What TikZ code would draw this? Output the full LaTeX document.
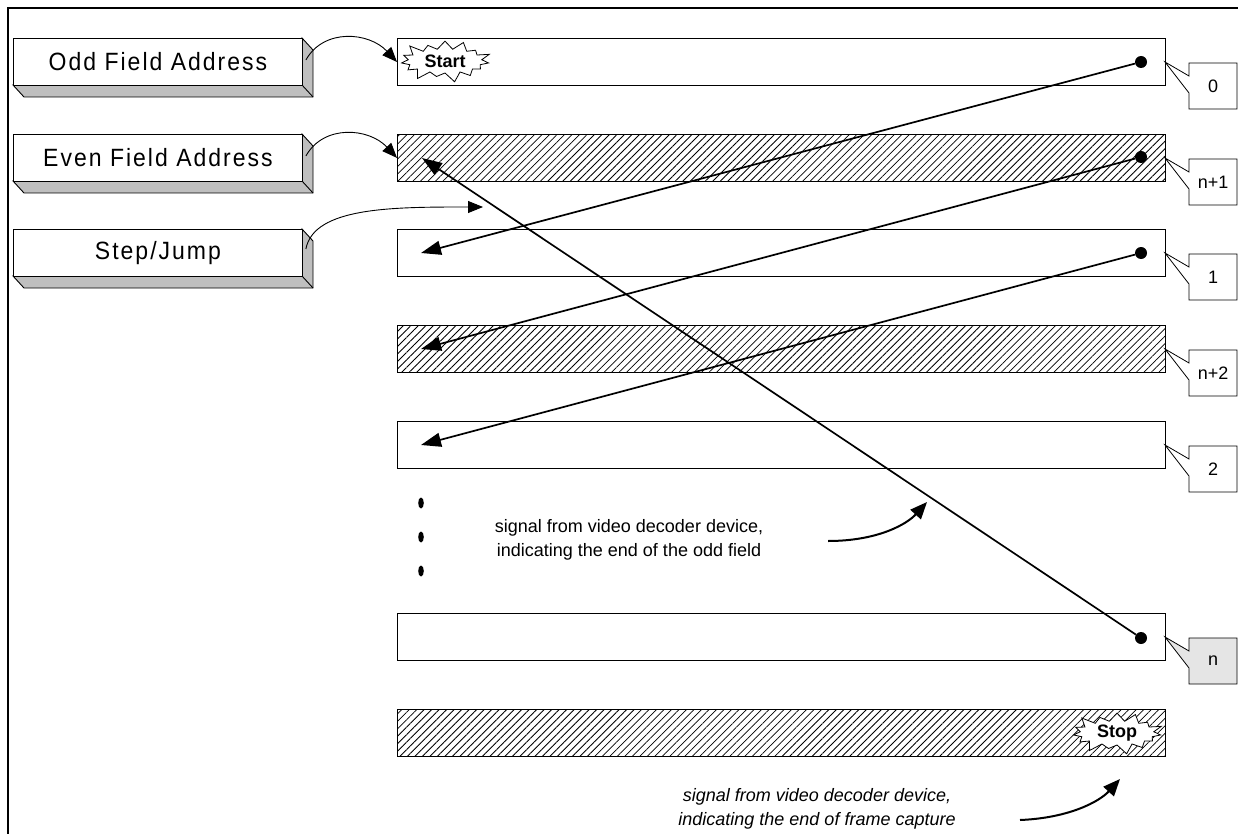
\documentclass[tikz,border=0pt]{standalone}
\usepackage{fontspec}
\setmainfont{Liberation Sans}
\newfontfamily\boxfont[FakeStretch=0.92,LetterSpace=8]{Liberation Sans}
\usetikzlibrary{arrows.meta,shapes.symbols,patterns.meta,calc}
\tikzset{
  rowbox/.style={draw, line width=1pt, fill=white, minimum width=768pt, minimum height=47pt, inner sep=0pt, anchor=north west},
  hatched/.style={rowbox, pattern={Lines[angle=45,distance=5.3pt,line width=0.8pt]}},
  frontbox/.style={draw, line width=0.9pt, fill=white, minimum width=289pt, minimum height=47pt, inner sep=0pt, anchor=north west, font=\boxfont\fontsize{25}{28}\selectfont},
  sideface/.style={draw, line width=0.9pt, fill=black!25},
  dotnode/.style={circle, fill=black, inner sep=0pt, minimum size=12pt},
  bigarrow/.style={line width=1.7pt, -{Triangle[length=20pt,width=14pt]}},
  thinarrow/.style={line width=0.9pt, -{Triangle[length=15pt,width=12pt]}},
  medarrow/.style={line width=2pt, -{Triangle[length=17pt,width=14pt]}},
  burst/.style={starburst, draw, fill=white, line width=0.8pt, starburst points=15, starburst point height=11pt, inner sep=0pt, font=\bfseries\fontsize{18}{18}\selectfont},
  sigtext/.style={align=center, font=\fontsize{18}{24}\selectfont},
  labtext/.style={font=\fontsize{18}{18}\selectfont},
}
\newcommand\tdbox[3]{%
  \filldraw[sideface] (302,#2) -- (313,#2+12) -- (313,#2+59) -- (24,#2+59) -- (13,#2+47) -- (302,#2+47) -- cycle;
  \draw[line width=0.9pt] (302,#2+47) -- (313,#2+59);
  \node[frontbox] (#1) at (13,#2) {#3};
}
\begin{document}
\begin{tikzpicture}[x=1pt,y=-1pt]
\useasboundingbox (0,0) rectangle (1238,834);
% frame
\draw[line width=2.6pt] (8,834) -- (8,8) -- (1238,8);

% left 3D boxes
\tdbox{odd}{38}{Odd Field Address}
\tdbox{even}{134}{Even Field Address}
\tdbox{sj}{229}{Step/Jump}

% memory rows
\node[rowbox] (r0) at (397,38) {};
\node[hatched] (r1) at (397,134) {};
\node[rowbox] (r2) at (397,229) {};
\node[hatched] (r3) at (397,325) {};
\node[rowbox] (r4) at (397,421) {};
\node[rowbox] (rn) at (397,613) {};
\node[hatched] (rs) at (397,709) {};

% callouts
\foreach \t/\lab/\f in {38/0/white, 134/n+1/white, 229/1/white, 325/n+2/white, 421/2/white, 613/n/black!10}{
  \filldraw[fill=\f, line width=0.8pt] (1189,\t+25) -- (1237,\t+25) -- (1237,\t+71) -- (1189,\t+71) -- (1189,\t+55) -- (1165,\t+24) -- (1189,\t+38) -- cycle;
  \node[labtext] (c\t) at (1213,\t+48) {\lab};
}

% starbursts
\node[burst, minimum width=96pt, minimum height=46pt] (start) at (445,61) {Start};
\node[burst, minimum width=96pt, minimum height=46pt] (stop) at (1117,733) {Stop};

% dots
\node[dotnode] (d0) at (1141,62) {};
\node[dotnode] (d1) at (1141,157) {};
\node[dotnode] (d2) at (1141,253) {};
\node[dotnode] (dn) at (1141,638) {};
\coordinate (t1) at (422,158);
\coordinate (t2) at (421,253);
\coordinate (t3) at (421,349);
\coordinate (t4) at (421,445);

\draw[bigarrow] (d0) -- (t2);
\draw[bigarrow] (d1) -- (t3);
\draw[bigarrow] (d2) -- (t4);
\draw[bigarrow] (dn) -- (t1);

% vertical ellipsis
\fill (421,503) ellipse [x radius=2.8pt, y radius=5.5pt];
\fill (421,537) ellipse [x radius=2.8pt, y radius=5.5pt];
\fill (421,571) ellipse [x radius=2.8pt, y radius=5.5pt];

% curved arrows from address boxes
\draw[thinarrow] ($(odd.east)+(3,-2)$) .. controls +(18,-32) and +(-28,-30) .. (r0.west);
\draw[thinarrow] ($(even.east)+(3,-2)$) .. controls +(18,-32) and +(-28,-30) .. (r1.west);
\coordinate (sjend) at (483,207);
\draw[thinarrow] ($(sj.east)+(3,-4)$) .. controls +(8,-42) and +(-90,0) .. (sjend);

% signal texts
\node[sigtext] (sig1) at (629,540) {signal from video decoder device,\\ indicating the end of the odd field};
\node[sigtext, font=\itshape\fontsize{18}{24}\selectfont] (sig2) at (817,809) {signal from video decoder device,\\ indicating the end of frame capture};
\coordinate (s1a) at (828,541);
\coordinate (s1b) at (927,502);
\coordinate (s2a) at (1020,820);
\coordinate (s2b) at (1120,779);
\draw[medarrow] (s1a) .. controls +(50,0) and +(-20,22) .. (s1b);
\draw[medarrow] (s2a) .. controls +(50,-2) and +(-20,22) .. (s2b);
\end{tikzpicture}
\end{document}
